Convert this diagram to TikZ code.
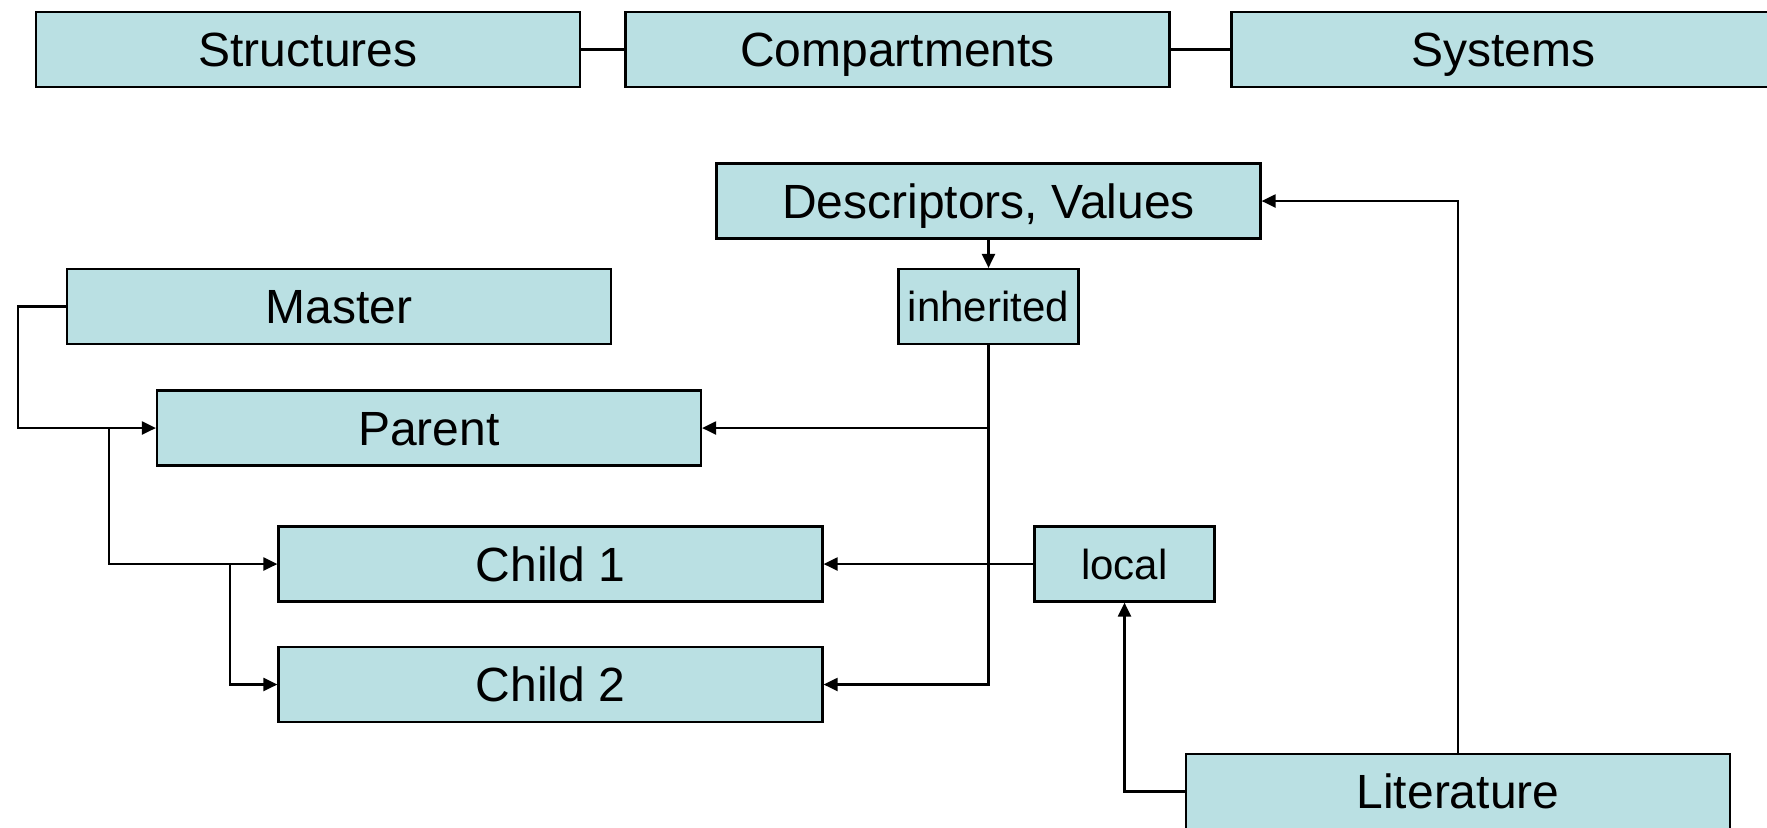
\documentclass[tikz,border=0pt]{standalone}
\usepackage{fontspec}
\setmainfont{Liberation Sans}
\usetikzlibrary{arrows.meta}
\definecolor{boxfill}{RGB}{186,224,227}
\tikzset{
  box/.style={draw=black, fill=boxfill, line width=1.1pt, inner sep=0pt,
    minimum width=272pt, minimum height=37.5pt, text height=17.2pt, text depth=0pt,
    font=\fontsize{24}{28}\selectfont},
  smallbox/.style={box, minimum width=90pt, text height=15pt, font=\fontsize{21}{25}\selectfont},
  conn/.style={line width=1.1pt, -{Triangle[length=7pt,width=6.5pt]}},
  link/.style={line width=1.1pt}
}
\begin{document}
\begin{tikzpicture}[x=0.5pt,y=-0.5pt]
\useasboundingbox (0,0) rectangle (1767,827);
% top row
\node[box] (struct) at (308,49.5) {Structures};
\node[box] (comp) at (897.5,49.5) {Compartments};
\node[box] (sys) at (1503.5,49.5) {Systems};
\draw[link] (struct.east) -- (comp.west);
\draw[link] (comp.east) -- (sys.west);
% main boxes
\node[box] (desc) at (988.5,201) {Descriptors, Values};
\node[smallbox] (inh) at (988.5,306.5) {inherited};
\node[box] (master) at (339,306.5) {Master};
\node[box] (parent) at (429,428) {Parent};
\node[box] (child1) at (550.5,564) {Child 1};
\node[box] (child2) at (550.5,684.5) {Child 2};
\node[smallbox] (local) at (1124.5,564) {local};
\node[box] (lit) at (1458,791.5) {Literature};
% junction coordinates
\coordinate (mleft) at (18,306.5);
\coordinate (j1) at (109,428);
\coordinate (j2) at (230,564);
\coordinate (j3) at (inh.south |- parent.east);
% connectors
\draw[conn] (master.west) -- (mleft) |- (parent.west);
\draw[conn] (j1) |- (child1.west);
\draw[conn] (j2) |- (child2.west);
\draw[conn] (desc.south) -- (inh.north);
\draw[conn] (inh.south) |- (child2.east);
\draw[conn] (j3) -- (parent.east);
\draw[conn] (local.west) -- (child1.east);
\draw[conn] (lit.west) -| (local.south);
\draw[conn] (lit.north) |- (desc.east);
\end{tikzpicture}
\end{document}
